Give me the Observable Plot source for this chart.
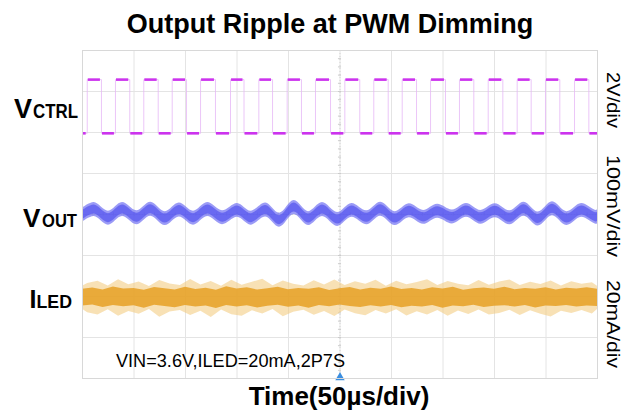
<!DOCTYPE html>
<html>
<head>
<meta charset="utf-8">
<script src="https://cdn.jsdelivr.net/npm/d3@7"></script>
<script src="https://cdn.jsdelivr.net/npm/@observablehq/plot@0.6"></script>
<style>
  html, body { margin: 0; padding: 0; background: #fff; }
  #chart svg { display: block; }
</style>
</head>
<body>
<div id="chart"></div>
<script>
// ---- Data ----
// time axis: 10 divisions x 50 µs; vertical: 8 divisions
const gridX = [0, 50, 100, 150, 200, 250, 300, 350, 400, 450, 500];
const gridY = [0, 1, 2, 3, 4, 5, 6, 7, 8];

// VCTRL square wave edges (µs) and levels (divisions)
const vctrlRise = [4.6, 32.0, 59.5, 87.1, 114.6, 143.7, 171.2, 198.7, 226.2, 254.7, 282.8, 310.4, 337.9, 366.0, 393.9, 422.0, 449.5, 477.7];
const vctrlFall = [18.4, 45.9, 73.5, 101.0, 129.1, 156.8, 184.5, 212.6, 240.8, 269.2, 296.8, 324.3, 352.4, 379.9, 408.1, 435.6, 463.4, 491.6];
const vctrlHigh = 7.29;
const vctrlLow = 5.98;

// VOUT ripple (mV around its trace centre, 100 mV/div)
const voutCenter = 4.02;
const voutT = [0, 11.4, 25.2, 38.8, 52.7, 66.3, 80.3, 93.9, 107.8, 121.4, 135.9, 150.5, 163.6, 178.0, 191.3, 205.5, 219.4, 233.0, 247.6, 261.5, 276.0, 289.6, 303.6, 317.2, 331.1, 344.7, 359.2, 372.8, 386.7, 400.7, 414.9, 428.8, 442.4, 456.3, 470.2, 484.5, 498.4, 500];
const voutMv = [-4, 10, -11, 10, -10, 11, -12, 9, -11, 10, -10, 8, -11, 9, -16, 15, -12, 10, -14, 8, -10, 11, -12, 7, -9, 6, -8, 8, -9, 7, -10, 11, -13, 12, -12, 8, -9, -8];
const voutHalfOuter = 17; // mV
const voutHalfInner = 11; // mV

// ILED noise envelope (mA around its trace centre, 20 mA/div), sampled every 10 µs
const iledCenter = 1.976;
const iledCoreUp = [4.0,4.6,3.6,5.1,4.1,4.4,3.5,4.9,4.2,3.7,5.0,3.9,4.5,3.5,5.2,4.1,4.7,3.6,4.3,5.0,3.8,4.4,4.0,4.8,3.4,4.3,4.9,3.7,4.5,4.0,5.1,3.9,4.4,3.6,4.7,4.1,5.0,3.5,4.2,4.6,4.0,5.0,3.8,4.4,4.0,4.8,3.6,4.5,4.1,4.7,4.0];
const iledCoreDn = [-4.2,-3.7,-4.9,-3.9,-4.5,-4.0,-5.3,-3.8,-4.4,-5.0,-3.9,-4.7,-4.1,-5.4,-3.9,-4.6,-4.0,-5.1,-4.3,-3.8,-4.8,-4.2,-5.2,-3.9,-4.5,-3.7,-4.4,-4.9,-4.0,-4.6,-3.9,-5.0,-4.3,-4.7,-3.9,-5.2,-4.1,-4.5,-3.8,-4.9,-4.3,-4.0,-4.6,-3.9,-5.1,-4.2,-4.4,-3.9,-4.7,-4.1,-4.4];
// fringe spikes sampled at 5, 15, ... 495 µs
const iledFringeUp = [6.8,7.9,5.6,8.6,6.2,7.6,5.4,8.3,6.6,5.9,8.8,6.1,7.8,5.5,8.4,6.0,7.4,8.9,5.7,8.0,6.5,5.6,8.2,6.1,8.5,5.8,7.7,6.4,8.4,5.5,7.9,6.2,7.3,8.7,5.9,7.8,6.5,5.7,8.3,6.0,7.6,8.5,5.8,7.4,6.3,8.1,5.6,7.7,6.4,7.2];
const iledFringeDn = [-7.4,-8.6,-6.0,-9.2,-6.8,-8.2,-5.9,-9.6,-7.1,-6.3,-8.8,-6.7,-9.8,-6.1,-8.4,-9.1,-6.5,-8.0,-5.9,-9.4,-7.2,-6.2,-8.7,-6.8,-9.3,-6.1,-7.9,-8.9,-6.4,-8.1,-6.0,-9.0,-7.0,-8.5,-6.3,-9.2,-6.6,-8.3,-6.1,-8.6,-7.8,-6.2,-8.8,-6.5,-8.2,-9.5,-6.7,-7.8,-6.3,-8.0];

// ---- Build tables ----
const edges = [];
vctrlRise.forEach((r, i) => { edges.push({t: r, up: true}); edges.push({t: vctrlFall[i], up: false}); });
edges.sort((a, b) => a.t - b.t);
const sq = [{t: 0, v: vctrlLow}];
let lvl = vctrlLow;
for (const e of edges) {
  sq.push({t: e.t, v: lvl});
  lvl = e.up ? vctrlHigh : vctrlLow;
  sq.push({t: e.t, v: lvl});
}
sq.push({t: 500, v: lvl});
const segs = [];
{
  let prev = 0, cur = vctrlLow;
  for (const e of edges) {
    segs.push({x1: prev, x2: e.t, y: cur});
    prev = e.t; cur = e.up ? vctrlHigh : vctrlLow;
  }
  segs.push({x1: prev, x2: 500, y: cur});
}
const gap = 1.0;
const segsIn = segs.map(s => ({x1: s.x1 === 0 ? 0 : s.x1 + gap, x2: s.x2 === 500 ? 500 : s.x2 - gap, y: s.y}));

const vout = voutT.map((t, i) => ({t, mv: voutMv[i]}));
const iledCore = iledCoreUp.map((u, i) => ({t: i * 10, up: u, dn: iledCoreDn[i]}));
const iledFringe = iledFringeUp.map((u, i) => ({t: 5 + i * 10, up: u, dn: iledFringeDn[i]}));
const iledFringeFull = [{t: 0, up: iledCoreUp[0] + 1.5, dn: iledCoreDn[0] - 1.5}, ...iledFringe, {t: 500, up: iledCoreUp[50] + 1.5, dn: iledCoreDn[50] - 1.5}];

const centerTicksY = d3.range(0, 8.001, 0.2);
const centerTicksX = d3.range(0, 500.001, 10);

const plot = Plot.plot({
  width: 623,
  height: 416,
  marginLeft: 82,
  marginRight: 26,
  marginTop: 50,
  marginBottom: 38,
  style: {background: "#fff"},
  x: {domain: [0, 500], axis: null},
  y: {domain: [0, 8], axis: null},
  marks: [
    Plot.ruleX(gridX, {stroke: "#e4e4e4", strokeWidth: 1}),
    Plot.ruleY(gridY, {stroke: "#e4e4e4", strokeWidth: 1}),
    Plot.ruleX([250], {stroke: "#d4d4d4", strokeDasharray: "1,2"}),
    Plot.ruleY([4], {stroke: "#d4d4d4", strokeDasharray: "1,2"}),
    Plot.ruleY(centerTicksY, {y: d => d, x1: 248.5, x2: 251.5, stroke: "#cccccc"}),
    Plot.ruleX(centerTicksX, {x: d => d, y1: 3.96, y2: 4.04, stroke: "#cccccc"}),
    // VCTRL
    Plot.line(sq, {x: "t", y: "v", stroke: "#e6b8f6", strokeWidth: 0.8}),
    Plot.ruleY(segsIn, {y: "y", x1: "x1", x2: "x2", stroke: "#cc33ee", strokeWidth: 2.6}),
    // VOUT
    Plot.areaY(vout, {x: "t", y1: d => voutCenter + (d.mv - voutHalfOuter) / 100, y2: d => voutCenter + (d.mv + voutHalfOuter) / 100, curve: "catmull-rom", fill: "#7070f2", fillOpacity: 0.7}),
    Plot.areaY(vout, {x: "t", y1: d => voutCenter + (d.mv - voutHalfInner) / 100, y2: d => voutCenter + (d.mv + voutHalfInner) / 100, curve: "catmull-rom", fill: "#4f4fee", fillOpacity: 0.65}),
    // ILED
    Plot.areaY(iledFringeFull, {x: "t", y1: d => iledCenter + d.dn / 20, y2: d => iledCenter + d.up / 20, fill: "#f3c878", fillOpacity: 0.55}),
    Plot.areaY(iledCore, {x: "t", y1: d => iledCenter + d.dn / 20, y2: d => iledCenter + d.up / 20, fill: "#e6a024", fillOpacity: 0.85}),
    // trigger marker
    Plot.dot([{t: 250, v: 0}], {x: "t", y: "v", symbol: "triangle", r: 3.5, fill: "#3b8ee0", dy: -1}),
    Plot.frame({stroke: "#d8d8d8"})
  ]
});
document.getElementById("chart").appendChild(plot);

const svg = d3.select(plot);
const FF = "'Liberation Sans', Arial, Helvetica, sans-serif";
svg.append("text").attr("x", 330).attr("y", 33).attr("text-anchor", "middle")
  .attr("font-family", FF).attr("font-size", 27).attr("font-weight", "bold").attr("fill", "#000")
  .text("Output Ripple at PWM Dimming");

function sigLabel(big, small, xBig, xSmall, xEnd, baseline, bigSize, smallSize) {
  svg.append("text").attr("x", xBig).attr("y", baseline).attr("text-anchor", "start").attr("font-family", FF)
    .attr("font-size", bigSize).attr("font-weight", "bold").attr("fill", "#000").text(big);
  svg.append("text").attr("x", xSmall).attr("y", baseline).attr("text-anchor", "start").attr("font-family", FF)
    .attr("font-size", smallSize).attr("font-weight", "bold").attr("fill", "#000")
    .attr("textLength", xEnd - xSmall).attr("lengthAdjust", "spacingAndGlyphs").text(small);
}
sigLabel("V", "CTRL", 14, 33, 78, 118, 27, 20);
sigLabel("V", "OUT", 23, 42, 77, 227, 26, 19);
sigLabel("I", "LED", 29.5, 36.5, 72, 308, 25, 19);

function sideLabel(txt, cy, len) {
  svg.append("text").attr("transform", `translate(607,${cy}) rotate(90)`).attr("text-anchor", "middle")
    .attr("font-family", FF).attr("font-size", 19).attr("fill", "#000")
    .attr("textLength", len).attr("lengthAdjust", "spacingAndGlyphs").text(txt);
}
sideLabel("2V/div", 100, 56);
sideLabel("100mV/div", 206, 102);
sideLabel("20mA/div", 324, 88);

svg.append("text").attr("x", 116).attr("y", 367).attr("text-anchor", "start").attr("font-family", FF)
  .attr("font-size", 18).attr("fill", "#000").attr("textLength", 229).attr("lengthAdjust", "spacingAndGlyphs")
  .text("VIN=3.6V,ILED=20mA,2P7S");

svg.append("text").attr("x", 339).attr("y", 405).attr("text-anchor", "middle")
  .attr("font-family", FF).attr("font-size", 26).attr("font-weight", "bold").attr("fill", "#000")
  .text("Time(50µs/div)");
</script>
</body>
</html>
